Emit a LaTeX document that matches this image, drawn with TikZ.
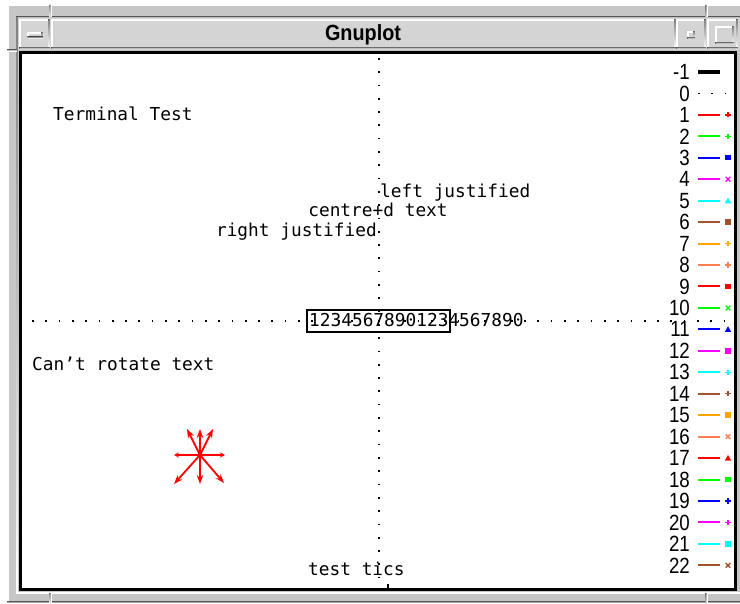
\documentclass[tikz,border=0pt]{standalone}
\usepackage{fontspec}
\setmainfont{DejaVu Sans Mono}
\newfontfamily\monofont{DejaVu Sans Mono}
\newfontfamily\legfont[FakeStretch=0.85]{Liberation Sans}
\newfontfamily\titlefont[FakeStretch=0.9]{Liberation Sans}
\usetikzlibrary{arrows.meta}
\definecolor{framegray}{HTML}{C6C6C6}
\definecolor{titlegray}{HTML}{D4D4D4}
\definecolor{shade}{HTML}{7A7A7A}
\definecolor{xgreen}{HTML}{00FF00}
\definecolor{xorange}{HTML}{FFA500}
\definecolor{xcoral}{HTML}{FF7F50}
\definecolor{xsienna}{HTML}{A0522D}
\definecolor{xred}{HTML}{FF0000}
\definecolor{xblue}{HTML}{0000FF}
\definecolor{xmagenta}{HTML}{FF00FF}
\definecolor{xcyan}{HTML}{00FFFF}
% bevel: light top/left strips, dark bottom/right strips (filled, no joins)
\newcommand\bevelbox[4]{%
  \fill[white] (#1-0.75,#2-0.75) rectangle (#3+0.75,#2+0.75);
  \fill[white] (#1-0.75,#2-0.75) rectangle (#1+0.75,#4+0.75);
  \fill[shade] (#3-0.75,#2-0.75) rectangle (#3+0.75,#4+0.75);
  \fill[shade] (#1-0.75,#4-0.75) rectangle (#3+0.75,#4+0.75);
}
\newcommand\legitem[3]{%
  \pgfmathsetmacro\yy{72+(#1+1)*21.45}
  \node[legnum] (n#1) at (690,\yy) {#1};
  \coordinate (a#1) at (698,\yy);
  \coordinate (b#1) at (720,\yy);
  \draw[#2, line width=2] (a#1) -- (b#1);
  \pic[#2] at (728,\yy) {#3};
}
\begin{document}
\begin{tikzpicture}[x=1pt,y=-1pt,
  txt/.style={font=\monofont\fontsize{17.8}{20}\selectfont, inner sep=0},
  legnum/.style={font=\legfont\fontsize{22}{24}\selectfont, inner sep=0, anchor=east},
  dotline/.style={line width=1.7, dash pattern=on 1.7 off 11.6},
  arr/.style={xred, line width=1.8, -{Stealth[length=9,width=6.5]}},
  sarr/.style={xred, line width=1.8, -{Stealth[length=5,width=5]}},
  mplus/.pic={\draw[line width=1.4] (-2.6,0)--(2.6,0) (0,-2.6)--(0,2.6);},
  mx/.pic={\draw[line width=1.3] (-2.3,-2.3)--(2.3,2.3) (-2.3,2.3)--(2.3,-2.3);},
  mbox/.pic={\fill (-2.7,-2.7) rectangle (2.7,2.7);},
  mtri/.pic={\fill (0,-3.2) -- (3.2,2.6) -- (-3.2,2.6) -- cycle;}
]
\useasboundingbox (0,0) rectangle (740,604);
% window frame
\fill[white] (0,0) rectangle (740,604);
\fill[framegray] (7,5) rectangle (745,603);
\fill[white] (7,5) rectangle (745,6.5);
\fill[white] (7,5) rectangle (8.5,603);
\fill[shade] (7,601.5) rectangle (745,603);
\fill[shade] (16.4,16.4) rectangle (745,17.6);
\fill[shade] (16.4,16.4) rectangle (17.6,592);
\fill[white] (16.4,592.4) rectangle (745,593.6);
% corner notches
\fill[shade] (49.4,5) rectangle (50.6,17) (705.4,5) rectangle (706.6,17);
\fill[white] (50.6,5) rectangle (51.8,17) (706.6,5) rectangle (707.8,17);
\fill[shade] (49.4,593) rectangle (50.6,603) (705.4,593) rectangle (706.6,603);
\fill[white] (50.6,593) rectangle (51.8,603) (706.6,593) rectangle (707.8,603);
\fill[shade] (7,49.4) rectangle (17,50.6);
\fill[white] (7,50.6) rectangle (17,51.8);
% title bar
\fill[titlegray] (18,18) rectangle (740,50);
\bevelbox{20}{20}{49}{48}
\bevelbox{52}{20}{675}{48}
\bevelbox{677}{20}{705}{48}
\bevelbox{708}{20}{737}{48}
% button icons
\bevelbox{28}{33}{42}{37.5}
\bevelbox{688}{32}{694}{38}
\bevelbox{716}{27}{733}{43}
\node[font=\titlefont\bfseries\fontsize{22}{24}\selectfont, inner sep=0, anchor=base] (title) at (363,41) {Gnuplot};
% client area
\fill[white] (19,51) rectangle (736,591);
\draw[black, line width=3] (20.5,52.5) rectangle (735,589.5);
% grid dotted lines
\coordinate (vt) at (379,58);
\coordinate (vb) at (379,588);
\coordinate (hl) at (32,321);
\coordinate (hr) at (731,321);
\draw[dotline] (vt) -- (vb);
\draw[dotline] (hl) -- (hr);
% texts
\node[txt, anchor=base west] (tt) at (53,121) {Terminal Test};
\node[txt, anchor=base west] (lj) at (380,198) {left justified};
\node[txt, anchor=base] (cj) at (378,217) {centre+d text};
\node[txt, anchor=base east] (rj) at (377,237) {right justified};
\node[txt, anchor=base west] (num) at (309,327) {12345678901234567890};
\draw[line width=2.5] (307,310) rectangle (450,332);
\node[txt, anchor=base west] (cr) at (32,371) {Can’t rotate text};
\node[txt, anchor=base west] (tc) at (308,575) {test tics};
\coordinate (tic1) at (388,589);
\coordinate (tic2) at (388,584);
\draw[line width=2] (tic1) -- (tic2);
% arrows
\coordinate (ac) at (200,455);
\coordinate (au) at (200,429);
\coordinate (aul) at (187,429);
\coordinate (aur) at (213,429);
\coordinate (ad) at (200,484);
\coordinate (adl) at (174,484);
\coordinate (adr) at (224,483);
\coordinate (al) at (174,455);
\coordinate (ar) at (225,455);
\draw[arr] (ac) -- (au);
\draw[arr] (ac) -- (aul);
\draw[arr] (ac) -- (aur);
\draw[arr] (ac) -- (ad);
\draw[arr] (ac) -- (adl);
\draw[arr] (ac) -- (adr);
\draw[sarr] (ac) -- (al);
\draw[sarr] (ac) -- (ar);
% legend
\node[legnum] (nm1) at (690,72) {-1};
\coordinate (am1) at (698,72);
\coordinate (bm1) at (720,72);
\draw[black, line width=3.3] (am1) -- (bm1);
\node[legnum] (n0) at (690,93.45) {0};
\coordinate (a0) at (698,93.45);
\coordinate (b0) at (731,93.45);
\draw[dotline] (a0) -- (b0);
\legitem{1}{xred}{mplus}
\legitem{2}{xgreen}{mplus}
\legitem{3}{xblue}{mbox}
\legitem{4}{xmagenta}{mx}
\legitem{5}{xcyan}{mtri}
\legitem{6}{xsienna}{mbox}
\legitem{7}{xorange}{mplus}
\legitem{8}{xcoral}{mplus}
\legitem{9}{xred}{mbox}
\legitem{10}{xgreen}{mx}
\legitem{11}{xblue}{mtri}
\legitem{12}{xmagenta}{mbox}
\legitem{13}{xcyan}{mplus}
\legitem{14}{xsienna}{mplus}
\legitem{15}{xorange}{mbox}
\legitem{16}{xcoral}{mx}
\legitem{17}{xred}{mtri}
\legitem{18}{xgreen}{mbox}
\legitem{19}{xblue}{mplus}
\legitem{20}{xmagenta}{mplus}
\legitem{21}{xcyan}{mbox}
\legitem{22}{xsienna}{mx}
\end{tikzpicture}
\end{document}
